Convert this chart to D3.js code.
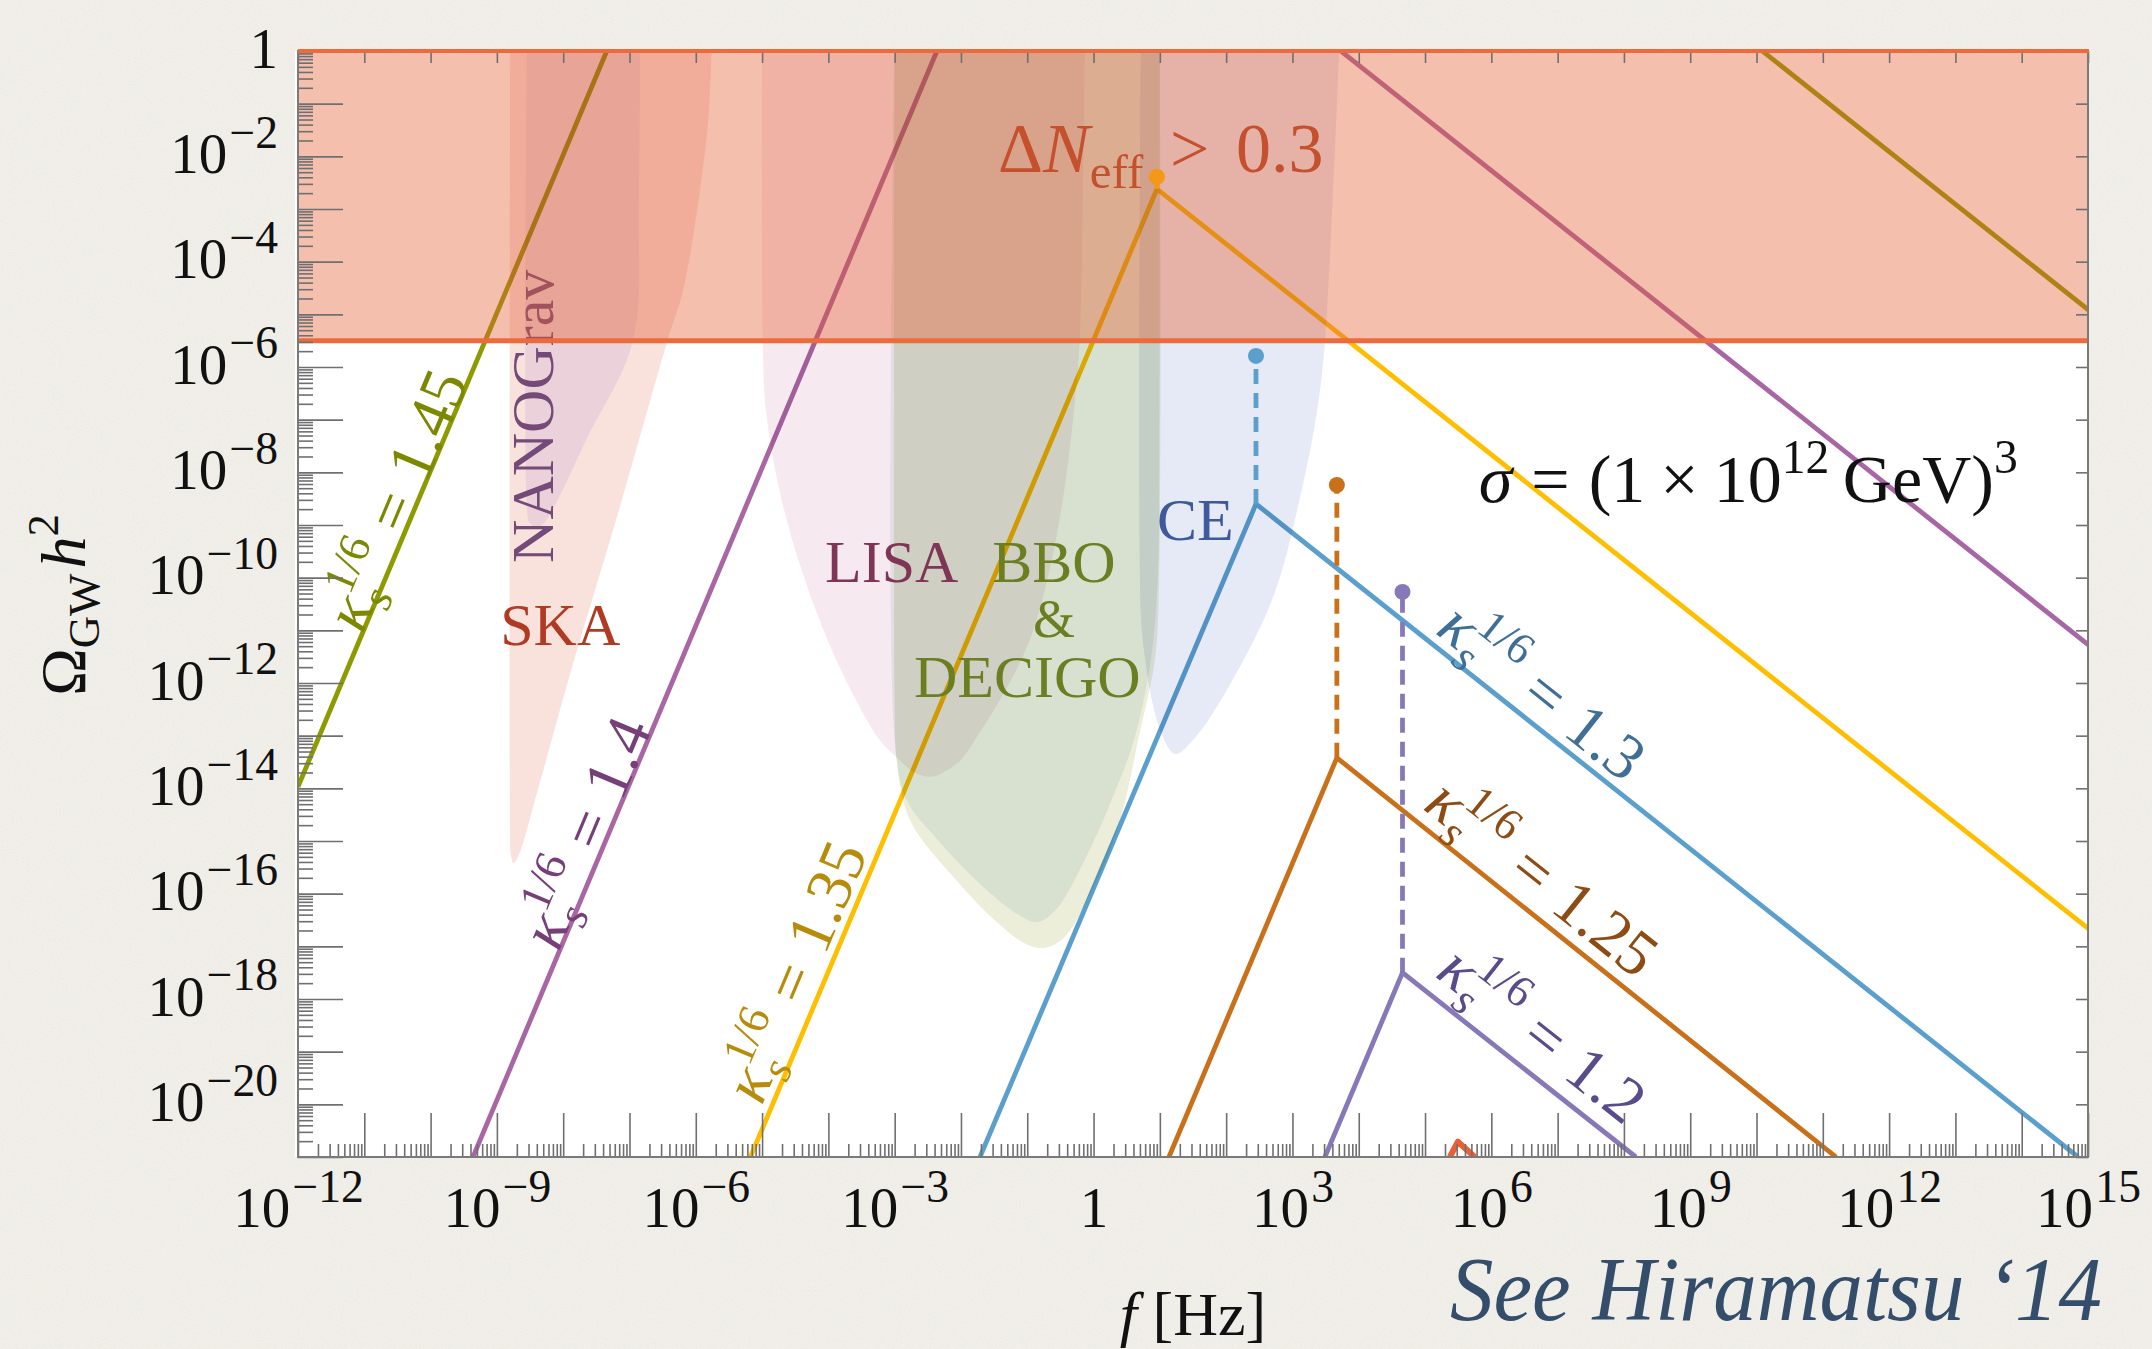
<!DOCTYPE html>
<html>
<head>
<meta charset="utf-8">
<script src="https://cdn.jsdelivr.net/npm/d3@7"></script>
<style>
  html, body { margin: 0; padding: 0; background: #f2f0ea; }
  svg { display: block; }
  text { font-family: "Liberation Serif", "DejaVu Serif", serif; white-space: pre; }
</style>
</head>
<body>
<div id="chart"></div>
<script>
/* GW spectra vs detector reach. All values are log10 exponents:
   [log10(f / Hz), log10(Omega_GW h^2)] */

/* ---------- DATA ---------- */
const xTickExp = [-12, -9, -6, -3, 0, 3, 6, 9, 12, 15];
const yTickExp = [0, -2, -4, -6, -8, -10, -12, -14, -16, -18, -20];

const kappaValues = ["1.45", "1.4", "1.35", "1.3", "1.25", "1.2"];
// broken power laws: left end, peak, right end
const k145 = [[-12.0, -13.97], [-2.985, 13.07], [15.01, -4.92]];
const k140 = [[-9.36, -21.0], [-0.84, 4.57], [15.02, -11.29]];
const k135 = [[-5.175, -21.0], [0.956, -2.62], [15.01, -16.67]];
const k130 = [[-1.713, -21.0], [2.45, -8.60], [14.85, -21.0]];
const k125 = [[1.137, -21.0], [3.67, -13.42], [11.2, -21.0]];
const k120 = [[3.49, -21.0], [4.66, -17.50], [8.18, -21.0]];
// dots above the peaks (kappa 1.35, 1.3, 1.25, 1.2)
const peakDots = [[0.956, -2.39], [2.45, -5.79], [3.67, -8.24], [4.66, -10.27]];

const dNeffBound = -5.5;   // Delta N_eff > 0.3

// sensitivity regions
const skaRegion = [[-8.80, 0.5], [-8.80, -14.9], [-8.79, -15.25], [-8.75, -15.42], [-8.68, -15.3],
  [-8.40, -14.11], [-7.90, -11.85], [-7.19, -8.85], [-6.43, -5.51], [-6.18, -4.48],
  [-5.83, -1.56], [-5.76, 0], [-5.74, 0.5]];
const nanogravRegion = [[-8.546, 0.5], [-8.546, -8.7], [-8.51, -8.95], [-8.40, -9.05], [-8.28, -8.95],
  [-8.09, -8.54], [-7.64, -7.35], [-6.95, -5.51], [-6.86, -2.83], [-6.84, 0.5]];
const lisaRegion = [[-5.0, 0.5], [-4.99, -5.5], [-4.94, -6.85], [-4.73, -8.39], [-4.38, -9.95],
  [-3.90, -11.51], [-3.25, -13.04], [-2.98, -13.40], [-2.70, -13.70], [-2.45, -13.78],
  [-2.20, -13.65], [-2.00, -13.46], [-1.79, -13.08], [-1.41, -12.32], [-0.96, -11.18],
  [-0.63, -9.66], [-0.42, -8.15], [-0.28, -6.63], [-0.21, -5.53], [-0.13, 0.5]];
const decigoRegion = [[-3.0, 0.5], [-3.0, -12.32], [-2.97, -13.46], [-2.77, -14.60], [-2.06, -15.76],
  [-1.46, -16.54], [-1.03, -16.95], [-0.75, -17.03], [-0.45, -16.84], [0.04, -15.76],
  [0.40, -14.60], [0.68, -13.04], [0.93, -11.51], [0.99, -9.95], [1.0, 0.5]];
const bboRegion = [[-3.0, 0.5], [-3.0, -13.04], [-2.83, -14.20], [-2.35, -14.98], [-1.76, -15.76],
  [-1.16, -16.38], [-0.85, -16.54], [-0.57, -16.31], [-0.14, -15.38], [0.28, -14.20],
  [0.62, -13.04], [0.87, -11.51], [0.97, -9.95], [0.99, -7.61], [1.0, 0.5]];
const ceRegion = [[0.715, 0.5], [0.715, -10.73], [0.78, -11.56], [0.87, -12.27], [1.05, -13.04],
  [1.23, -13.35], [1.53, -13.04], [2.12, -11.89], [2.72, -10.33], [3.13, -8.39],
  [3.37, -6.85], [3.49, -5.53], [3.72, 0.5]];
const highFreqTip = [[5.375, -21.0], [5.496, -20.71], [5.75, -21.0]];

/* ---------- STYLE / LAYOUT ---------- */
const W = 2152, H = 1349;
const PL = 298, PR = 2088, PT = 51, PB = 1157;
const spectra = { "1.45": k145, "1.4": k140, "1.35": k135, "1.3": k130, "1.25": k125, "1.2": k120 };
const lineColor = { "1.45": "#8d9a00", "1.4": "#a866a4", "1.35": "#ffbf00", "1.3": "#5b9fcc", "1.25": "#c8711a", "1.2": "#8878b8" };
const textColor = { "1.45": "#7b8800", "1.4": "#763f78", "1.35": "#b68c0a", "1.3": "#3f6f96", "1.25": "#8c4c14", "1.2": "#5a4c8a" };
const dotKeys = ["1.35", "1.3", "1.25", "1.2"];
// label centres [log f, log Omega] and which segment gives the angle
const kappaLabelAt = { "1.45": [-10.49, -8.54, 0], "1.4": [-7.63, -14.85, 0], "1.35": [-4.47, -17.49, 0],
  "1.3": [6.75, -12.19, 1], "1.25": [6.75, -15.72, 1], "1.2": [6.75, -18.70, 1] };
const regionFill = [
  [skaRegion, "#f9e1dc"], [nanogravRegion, "#f1eefd"], [lisaRegion, "#f6eaf0"],
  [decigoRegion, "#eceeda"], [bboRegion, "#eaf2f3"], [ceRegion, "#e6eaf6"]
];
const FS = 60, KFS = 64, TFS = 57;

/* ---------- SCALES ---------- */
const x = d3.scaleLog().domain([1e-12, 1e15]).range([PL, PR]);
const y = d3.scaleLog().domain([1e-21, 1]).range([PB, PT]);
const X = e => x(Math.pow(10, e)), Y = e => y(Math.pow(10, e));
const p10 = e => Math.pow(10, e);

const svg = d3.select("#chart").append("svg").attr("width", W).attr("height", H);
const defs = svg.append("defs");

/* paper texture */
const flt = defs.append("filter").attr("id", "paper").attr("x", 0).attr("y", 0).attr("width", "100%").attr("height", "100%");
flt.append("feTurbulence").attr("type", "fractalNoise").attr("baseFrequency", 0.85).attr("numOctaves", 3).attr("seed", 7);
flt.append("feColorMatrix").attr("type", "matrix")
  .attr("values", "0 0 0 0 0.55  0 0 0 0 0.53  0 0 0 0 0.47  0 0 0 0.22 -0.06");
defs.append("clipPath").attr("id", "plotclip").append("rect")
  .attr("x", PL).attr("y", PT).attr("width", PR - PL).attr("height", PB - PT);

svg.append("rect").attr("width", W).attr("height", H).attr("fill", "#f2f0ea");
svg.append("rect").attr("width", W).attr("height", H).attr("filter", "url(#paper)");
svg.append("rect").attr("x", PL - 3).attr("y", PT).attr("width", PR - PL + 3).attr("height", PB - PT).attr("fill", "#fff");

const plot = svg.append("g").attr("clip-path", "url(#plotclip)");

/* ---------- helpers ---------- */
function rich(text, parts, fs) {
  let shift = 0;
  parts.forEach(p => {
    const target = p.sup ? -0.42 * fs : p.sub ? 0.22 * fs : 0;
    const ts = text.append("tspan").text(p.t).attr("dy", target - shift);
    if (p.sup || p.sub) ts.attr("font-size", fs * 0.7);
    if (p.it) ts.attr("font-style", "italic");
    if (p.dx) ts.attr("dx", p.dx * fs);
    shift = target;
  });
}
const line = d3.line().x(d => X(d[0])).y(d => Y(d[1]));
const smooth = d3.line().x(d => X(d[0])).y(d => Y(d[1])).curve(d3.curveCatmullRom.alpha(0.5));

/* ---------- SPECTRA (under the detector regions) ---------- */
kappaValues.forEach(k => {
  plot.append("path").attr("d", line(spectra[k])).attr("fill", "none")
    .attr("stroke", lineColor[k]).attr("stroke-width", 4.8);
});
plot.append("path").attr("d", line(highFreqTip)).attr("fill", "none")
  .attr("stroke", "#ea5f36").attr("stroke-width", 6).attr("stroke-linejoin", "round");

/* ---------- DETECTOR REGIONS ---------- */
regionFill.forEach(([pts, col]) => {
  plot.append("path").attr("d", smooth(pts) + "Z").attr("fill", col)
    .style("mix-blend-mode", "multiply");
});

/* dashed drops to the peaks */
dotKeys.forEach((k, i) => {
  const pk = spectra[k][1], dt = peakDots[i];
  plot.append("line").attr("x1", X(pk[0])).attr("y1", Y(pk[1])).attr("x2", X(dt[0])).attr("y2", Y(dt[1]))
    .attr("stroke", lineColor[k]).attr("stroke-width", 4.8).attr("stroke-dasharray", "15,9");
  plot.append("circle").attr("cx", X(dt[0])).attr("cy", Y(dt[1])).attr("r", 8).attr("fill", lineColor[k]);
});

/* region names */
const regionText = (pos, anchor, color, parts, rot, fs = FS) => {
  const t = plot.append("text").attr("font-size", fs).attr("fill", color).attr("text-anchor", anchor)
    .attr("transform", `translate(${X(pos[0])},${Y(pos[1])})` + (rot ? ` rotate(${rot})` : ""));
  rich(t, parts, fs);
};
regionText([-8.95, -11.28], "start", "#b03a22", [{ t: "SKA" }]);
regionText([-8.154, -9.72], "start", "#744a78", [{ t: "NANOGrav" }], -90);
regionText([-4.05, -10.08], "start", "#7e3556", [{ t: "LISA" }]);
regionText([-0.597, -10.08], "middle", "#6b7f22", [{ t: "BBO" }]);
regionText([-0.597, -11.12], "middle", "#6b7f22", [{ t: "&" }], 0, 54);
regionText([-1.0, -12.27], "middle", "#6b7f22", [{ t: "DECIGO" }]);
regionText([0.956, -9.28], "start", "#3e5a9c", [{ t: "CE" }]);

/* ---------- Delta N_eff band ---------- */
plot.append("rect").attr("x", PL).attr("width", PR - PL)
  .attr("y", Y(0)).attr("height", Y(dNeffBound) - Y(0))
  .attr("fill", "rgb(229,95,52)").attr("fill-opacity", 0.4);
plot.append("line").attr("x1", PL).attr("x2", PR).attr("y1", Y(dNeffBound)).attr("y2", Y(dNeffBound))
  .attr("stroke", "#ec6a3c").attr("stroke-width", 5);

/* kappa labels */
kappaValues.forEach(k => {
  const [lf, lo, seg] = kappaLabelAt[k];
  const a = spectra[k][seg], b = spectra[k][seg + 1];
  const ang = Math.atan2(Y(b[1]) - Y(a[1]), X(b[0]) - X(a[0])) * 180 / Math.PI;
  const t = plot.append("text").attr("font-size", KFS).attr("fill", textColor[k]).attr("text-anchor", "middle")
    .attr("transform", `translate(${X(lf)},${Y(lo)}) rotate(${ang})`).attr("y", KFS * 0.3);
  rich(t, [{ t: "κ", it: 1 }, { t: "s", it: 1, sub: 1 }, { t: "1/6", sup: 1, dx: -0.27 },
    { t: "=", dx: 0.3 }, { t: k, dx: 0.3 }], KFS);
});

regionText([-1.44, -2.30], "start", "#c4502d",
  [{ t: "Δ" }, { t: "N", it: 1 }, { t: "eff", sub: 1 }, { t: ">", dx: 0.38 }, { t: "0.3", dx: 0.38 }], 0, 70);
regionText([5.81, -8.56], "start", "#111",
  [{ t: "σ", it: 1 }, { t: "=", dx: 0.28 }, { t: "(1", dx: 0.28 }, { t: "×", dx: 0.22 }, { t: "10", dx: 0.22 },
   { t: "12", sup: 1 }, { t: "GeV)", dx: 0.2 }, { t: "3", sup: 1 }], 0, 68);

/* ---------- AXES ---------- */
const decX = d3.range(-12, 16), decY = d3.range(-21, 1);
const minorOf = decs => decs.slice(0, -1).flatMap(k => d3.range(2, 10).map(m => p10(k + Math.log10(m))));
const tickStyle = g => {
  g.select(".domain").remove();
  g.selectAll("line").attr("stroke", "#6f6f6f").attr("stroke-width", 1.6);
};
svg.append("g").attr("transform", `translate(0,${PB})`)
  .call(d3.axisBottom(x).tickValues(decX.map(p10)).tickSize(-44).tickFormat("")).call(tickStyle);
svg.append("g").attr("transform", `translate(0,${PB})`)
  .call(d3.axisBottom(x).tickValues(minorOf(decX)).tickSize(-13).tickFormat("")).call(tickStyle);
svg.append("g").attr("transform", `translate(0,${PT})`)
  .call(d3.axisTop(x).tickValues(decX.map(p10)).tickSize(-12).tickFormat("")).call(tickStyle);
svg.append("g").attr("transform", `translate(${PL},0)`)
  .call(d3.axisLeft(y).tickValues(decY.map(p10)).tickSize(-45).tickFormat("")).call(tickStyle);
svg.append("g").attr("transform", `translate(${PL},0)`)
  .call(d3.axisLeft(y).tickValues(minorOf(decY)).tickSize(-15).tickFormat("")).call(tickStyle);
svg.append("g").attr("transform", `translate(${PR},0)`)
  .call(d3.axisRight(y).tickValues(decY.map(p10)).tickSize(-12).tickFormat("")).call(tickStyle);

/* frame */
svg.append("rect").attr("x", PL).attr("y", PT).attr("width", PR - PL).attr("height", PB - PT)
  .attr("fill", "none").attr("stroke", "#7a7a7a").attr("stroke-width", 2);
svg.append("line").attr("x1", PL).attr("x2", PR + 1).attr("y1", PT).attr("y2", PT)
  .attr("stroke", "#ec6a3c").attr("stroke-width", 4);

/* tick labels */
function powLabel(text, e) {
  text.text(null);
  if (e === 0) { text.append("tspan").text("1"); return; }
  text.append("tspan").text("10");
  text.append("tspan").attr("font-size", TFS * 0.8).attr("dy", -TFS * 0.44).attr("dx", TFS * 0.04)
    .text(e < 0 ? "\u2212" + (-e) : String(e));
}
const gxl = svg.append("g").attr("transform", `translate(0,${PB})`)
  .call(d3.axisBottom(x).tickValues(xTickExp.map(p10)).tickSize(0).tickFormat(""));
gxl.select(".domain").remove();
gxl.selectAll("text").attr("y", 70).attr("dy", null).attr("font-size", TFS).attr("fill", "#111")
  .attr("font-family", null).attr("text-anchor", "middle")
  .each(function (d) { powLabel(d3.select(this), Math.round(Math.log10(d))); });
const gyl = svg.append("g").attr("transform", `translate(${PL},0)`)
  .call(d3.axisLeft(y).tickValues(yTickExp.map(p10)).tickSize(0).tickFormat(""));
gyl.select(".domain").remove();
gyl.selectAll("text").attr("x", -20).attr("y", 16).attr("dy", null).attr("font-size", TFS).attr("fill", "#111")
  .attr("font-family", null).attr("text-anchor", "end")
  .each(function (d) { powLabel(d3.select(this), Math.round(Math.log10(d))); });

/* axis titles */
const yt = svg.append("text").attr("font-size", 64).attr("fill", "#111").attr("text-anchor", "middle")
  .attr("transform", "translate(85,605) rotate(-90)");
rich(yt, [{ t: "Ω" }, { t: "GW", sub: 1 }, { t: "h", it: 1, dx: 0.08 }, { t: "2", sup: 1 }], 64);
const xt = svg.append("text").attr("font-size", 62).attr("fill", "#111").attr("text-anchor", "middle")
  .attr("x", (PL + PR) / 2).attr("y", 1335);
rich(xt, [{ t: "f", it: 1 }, { t: " [Hz]" }], 62);

svg.append("text").attr("x", 1450).attr("y", 1320).attr("font-size", 90).attr("font-style", "italic")
  .attr("textLength", 652).attr("lengthAdjust", "spacingAndGlyphs")
  .attr("fill", "#344d6b").text("See Hiramatsu \u201814");
</script>
</body>
</html>
